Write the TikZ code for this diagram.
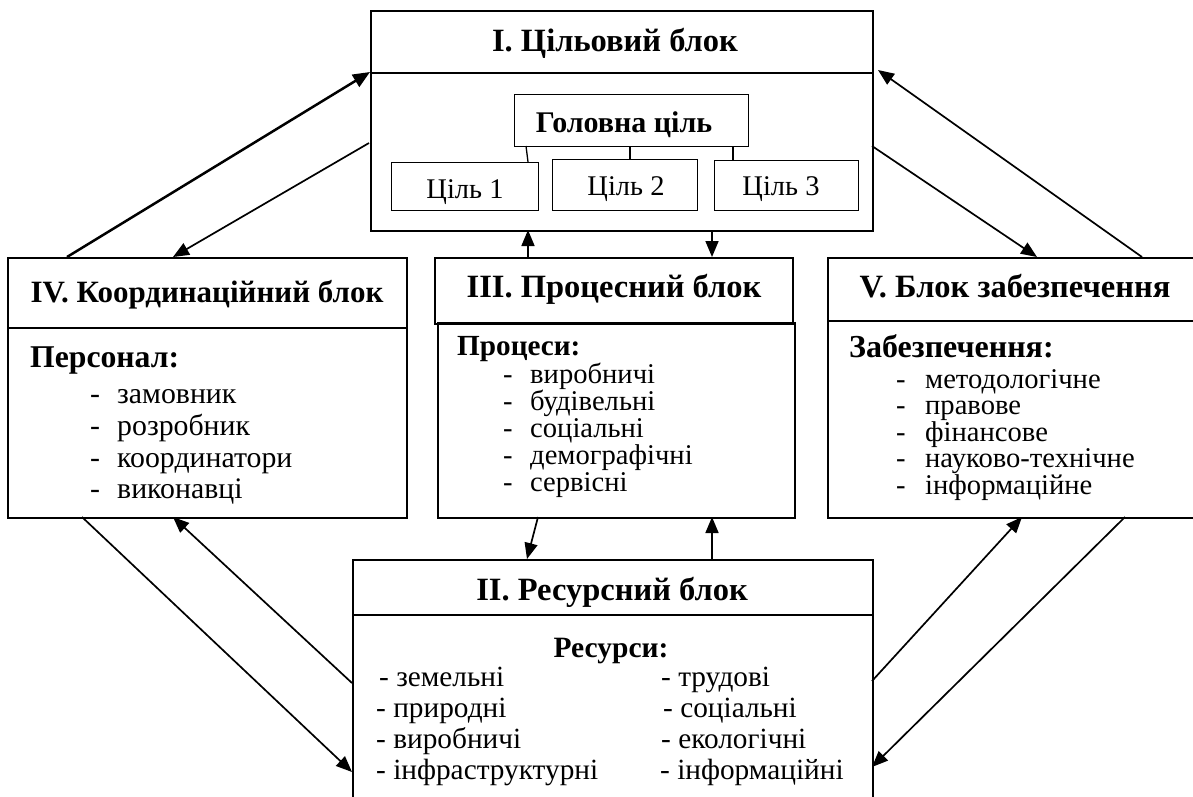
\documentclass[tikz,border=0pt]{standalone}
\usepackage{fontspec}
\setmainfont{Liberation Serif}
\usetikzlibrary{arrows.meta}

% a list entry: dash, then the word at a fixed indent
\newcommand{\dashentry}[2]{\makebox[#1][l]{-}#2}

\begin{document}
\begin{tikzpicture}[x=1pt,y=-1pt,
  frame/.style={draw,line width=1.7pt,rectangle,inner sep=0pt,anchor=north west},
  goalbox/.style={draw,line width=1.4pt,rectangle,inner sep=0pt,anchor=north west},
  rule/.style={line width=1.7pt},
  link/.style={line width=1.3pt},
  arr/.style={line width=1.7pt,-{Triangle[length=16pt,width=13pt]}},
  heavyarr/.style={line width=2.5pt,-{Triangle[length=17pt,width=14pt]}},
  title/.style={font=\fontsize{32.5}{38}\selectfont\bfseries,inner sep=0pt,anchor=base},
  subtitle/.style={font=\fontsize{30}{36}\selectfont\bfseries,inner sep=0pt,anchor=base west},
  goal/.style={font=\fontsize{28.5}{34}\selectfont,inner sep=0pt,anchor=base},
  item/.style={font=\fontsize{28.6}{34}\selectfont,inner sep=0pt,anchor=base west},
  bigitem/.style={font=\fontsize{29.8}{34}\selectfont,inner sep=0pt,anchor=base west}]

\fill[white] (0,0) rectangle (1193,796);
\useasboundingbox (0,0) rectangle (1193,796);
\clip (0,0) rectangle (1193,796);

% ---------- I. target block ----------
\node[frame,minimum width=502pt,minimum height=220pt] (blockI) at (370,10) {};
\draw[rule] (370,73) -- (872,73);
\node[title] (tI) at (615,51) {I. Цільовий блок};
\node[goalbox,minimum width=234pt,minimum height=52pt] (main) at (514,94) {};
\node[title,font=\fontsize{30}{36}\selectfont\bfseries] (tmain) at (624,132) {Головна ціль};
\node[goalbox,minimum width=147pt,minimum height=48pt] (g1) at (391,162) {};
\node[goalbox,minimum width=145pt,minimum height=51pt] (g2) at (552,159) {};
\node[goalbox,minimum width=144pt,minimum height=50pt] (g3) at (714,160) {};
\node[goal] (tg1) at (465,198) {Ціль 1};
\node[goal] (tg2) at (626,195) {Ціль 2};
\node[goal] (tg3) at (781,195) {Ціль 3};
\draw[link] (526,146) -- (528,162);
\draw[link] (630,146) -- (630,159);
\draw[link] (733,146) -- (733,160);

% ---------- IV. coordination block ----------
\node[frame,minimum width=399pt,minimum height=260pt] (blockIV) at (7,257) {};
\draw[rule] (7,328) -- (406,328);
\node[title,font=\fontsize{31}{36}\selectfont\bfseries] (tIV) at (207,302) {IV. Координаційний блок};
\node[subtitle,font=\fontsize{31.7}{36}\selectfont\bfseries] (pIV) at (30,367) {Персонал:};
\foreach \y/\t [count=\i] in {403/замовник,435/розробник,467/координатори,498/виконавці}{
  \node[bigitem] (iIV\i) at (90,\y) {\dashentry{27pt}{\t}};
}

% ---------- III. process block ----------
\node[frame,minimum width=358pt,minimum height=66pt] (blockIIIh) at (434,257) {};
\node[frame,minimum width=357pt,minimum height=195pt] (blockIII) at (437,322) {};
\node[title] (tIII) at (614,297) {III. Процесний блок};
\node[subtitle,font=\fontsize{29.2}{34}\selectfont\bfseries] (pIII) at (457,355) {Процеси:};
\foreach \y/\t [count=\i] in {383/виробничі,410/будівельні,437/соціальні,464/демографічні,491/сервісні}{
  \node[item] (iIII\i) at (503,\y) {\dashentry{27pt}{\t}};
}

% ---------- V. support block ----------
\node[frame,minimum width=380pt,minimum height=260pt] (blockV) at (827,257) {};
\draw[rule] (827,321) -- (1207,321);
\node[title] (tV) at (1015,297) {V. Блок забезпечення};
\node[subtitle,font=\fontsize{32}{36}\selectfont\bfseries] (pV) at (849,357) {Забезпечення:};
\foreach \y/\t [count=\i] in {388/методологічне,414.5/правове,441/фінансове,467.5/науково-технічне,494/інформаційне}{
  \node[item] (iV\i) at (896,\y) {\dashentry{29pt}{\t}};
}

% ---------- II. resource block ----------
\node[frame,minimum width=520pt,minimum height=260pt] (blockII) at (352,559) {};
\draw[rule] (352,615) -- (872,615);
\node[title] (tII) at (612,600) {II. Ресурсний блок};
\node[title,font=\fontsize{29.5}{34}\selectfont\bfseries] (pII) at (611,657) {Ресурси:};
\node[bigitem,font=\fontsize{29.3}{34}\selectfont] (r1) at (379,686) {- земельні};
\node[bigitem,font=\fontsize{29.3}{34}\selectfont] (r2) at (376,717) {- природні};
\node[bigitem,font=\fontsize{29.3}{34}\selectfont] (r3) at (376,748) {- виробничі};
\node[bigitem,font=\fontsize{29.3}{34}\selectfont] (r4) at (376,779) {- інфраструктурні};
\node[bigitem,font=\fontsize{29.3}{34}\selectfont] (r5) at (661,686) {- трудові};
\node[bigitem,font=\fontsize{29.3}{34}\selectfont] (r6) at (663,717) {- соціальні};
\node[bigitem,font=\fontsize{29.3}{34}\selectfont] (r7) at (661,748) {- екологічні};
\node[bigitem,font=\fontsize{29.3}{34}\selectfont] (r8) at (660,779) {- інформаційні};

% ---------- connector end points ----------
\coordinate (IVtopA) at (67,257);
\coordinate (IVtopB) at (173,257);
\coordinate (IleftA) at (370,72);
\coordinate (IleftB) at (369,143);
\coordinate (IrightA) at (878,70);
\coordinate (IrightB) at (872,146);
\coordinate (VtopA) at (1037,257);
\coordinate (VtopB) at (1142,257);
\coordinate (IbotA) at (528,230);
\coordinate (IbotB) at (712,230);
\coordinate (IIItopA) at (528,257);
\coordinate (IIItopB) at (712,257);
\coordinate (IIIbotA) at (538,517);
\coordinate (IIIbotB) at (712,517);
\coordinate (IItopA) at (527,559);
\coordinate (IItopB) at (712,559);
\coordinate (IVbotA) at (82,517);
\coordinate (IVbotB) at (173,517);
\coordinate (IIleftA) at (352,772);
\coordinate (IIleftB) at (352,683);
\coordinate (IIrightA) at (872,681);
\coordinate (IIrightB) at (872,767);
\coordinate (VbotA) at (1022,517);
\coordinate (VbotB) at (1125,517);

% ---------- connectors ----------
\draw[heavyarr] (IVtopA) -- (IleftA);
\draw[arr] (IleftB) -- (IVtopB);
\draw[arr] (IrightB) -- (VtopA);
\draw[arr] (VtopB) -- (IrightA);
\draw[arr] (IIItopA) -- (IbotA);
\draw[arr] (IbotB) -- (IIItopB);
\draw[arr] (IIIbotA) -- (IItopA);
\draw[arr] (IItopB) -- (IIIbotB);
\draw[arr] (IVbotA) -- (IIleftA);
\draw[arr] (IIleftB) -- (IVbotB);
\draw[arr] (IIrightA) -- (VbotA);
\draw[arr] (VbotB) -- (IIrightB);
\end{tikzpicture}
\end{document}
